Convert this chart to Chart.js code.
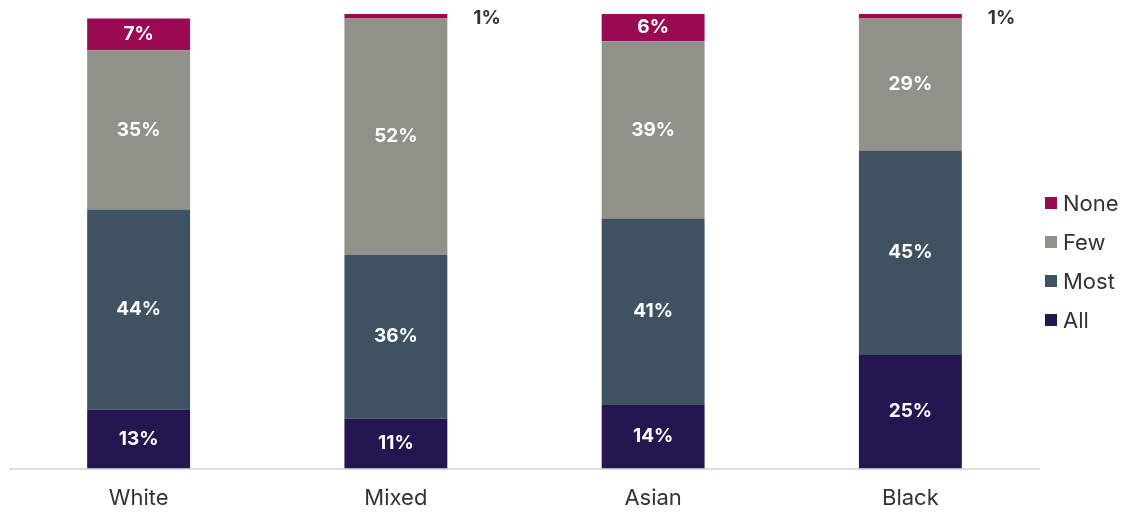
<!DOCTYPE html>
<html>
<head>
<meta charset="utf-8">
<script src="https://cdn.jsdelivr.net/npm/chart.js@4/dist/chart.umd.min.js"></script>
<style>
  html, body { margin: 0; padding: 0; background: #ffffff; }
  #wrap { width: 1128px; height: 512px; position: relative; }
</style>
</head>
<body>
<div id="wrap"><canvas id="c" width="1128" height="512"></canvas></div>
<script>
// Share of respondents by group
const categories = ['White', 'Mixed', 'Asian', 'Black'];
const allValues  = [13, 11, 14, 25];
const mostValues = [44, 36, 41, 45];
const fewValues  = [35, 52, 39, 29];
const noneValues = [7, 1, 6, 1];

const colors = {
  All:  '#231651',
  Most: '#3f5261',
  Few:  '#909189',
  None: '#990a52'
};

const FONT = 'Inter, "Noto Sans", sans-serif';

// Percent labels: white inside each segment, dark beside the bar for thin segments
const segmentLabels = {
  id: 'segmentLabels',
  afterDatasetsDraw(chart) {
    const ctx = chart.ctx;
    ctx.save();
    ctx.font = 'bold 19px ' + FONT;
    ctx.textBaseline = 'middle';
    chart.data.datasets.forEach((ds, di) => {
      const meta = chart.getDatasetMeta(di);
      meta.data.forEach((bar, i) => {
        const v = ds.data[i];
        const text = v + '%';
        const h = Math.abs(bar.base - bar.y);
        if (h >= 20) {
          ctx.fillStyle = '#ffffff';
          ctx.textAlign = 'center';
          ctx.fillText(text, bar.x, (bar.y + bar.base) / 2);
        } else {
          ctx.fillStyle = '#333333';
          ctx.textAlign = 'left';
          ctx.fillText(text, bar.x + bar.width / 2 + 26, bar.y + 4);
        }
      });
    });
    ctx.restore();
  }
};

// Legend to the right of the plot, top entry = top segment
const sideLegend = {
  id: 'sideLegend',
  afterDraw(chart) {
    const ctx = chart.ctx;
    const area = chart.chartArea;
    const items = chart.data.datasets.slice().reverse();
    ctx.save();
    ctx.font = '22px ' + FONT;
    ctx.textBaseline = 'middle';
    ctx.textAlign = 'left';
    items.forEach((ds, k) => {
      const cy = area.top + 189 + k * 39;
      const bx = area.right + 6;
      ctx.fillStyle = ds.backgroundColor;
      ctx.fillRect(bx, cy - 6, 12, 12);
      ctx.fillStyle = '#333333';
      ctx.fillText(ds.label, bx + 18, cy + 1);
    });
    ctx.restore();
  }
};

new Chart(document.getElementById('c'), {
  type: 'bar',
  data: {
    labels: categories,
    datasets: [
      { label: 'All',  data: allValues,  backgroundColor: colors.All },
      { label: 'Most', data: mostValues, backgroundColor: colors.Most },
      { label: 'Few',  data: fewValues,  backgroundColor: colors.Few },
      { label: 'None', data: noneValues, backgroundColor: colors.None }
    ]
  },
  options: {
    responsive: false,
    animation: false,
    devicePixelRatio: 1,
    layout: { padding: { left: 10, right: 89, top: 14, bottom: -17 } },
    datasets: { bar: { categoryPercentage: 1.0, barPercentage: 0.4 } },
    scales: {
      x: {
        stacked: true,
        grid: { display: false, drawTicks: false },
        border: { display: true, color: '#dedede', width: 2 },
        ticks: { color: '#333333', font: { family: FONT, size: 22 }, padding: 17 }
      },
      y: {
        stacked: true,
        min: 0, max: 100,
        display: false
      }
    },
    plugins: {
      legend: { display: false },
      tooltip: { enabled: false }
    }
  },
  plugins: [segmentLabels, sideLegend]
});
</script>
</body>
</html>
